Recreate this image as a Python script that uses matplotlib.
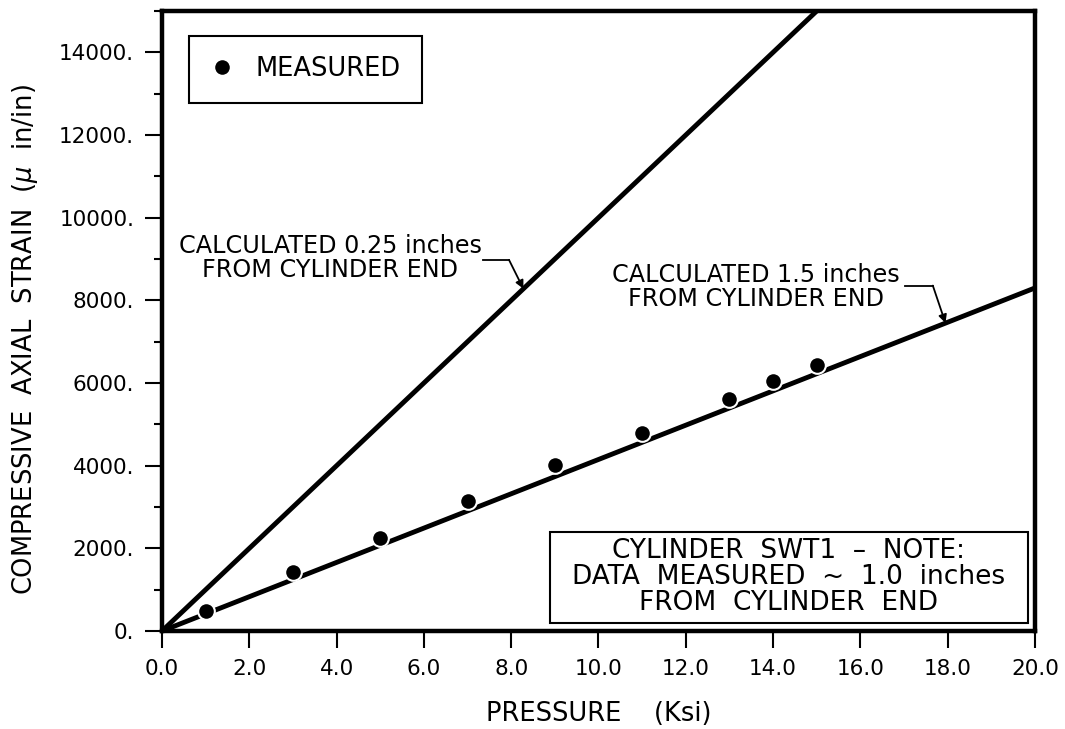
import matplotlib
matplotlib.use('Agg')
import matplotlib.pyplot as plt
from matplotlib.ticker import MultipleLocator, FuncFormatter
from matplotlib.patches import Rectangle

# measured strain, cylinder SWT1 (~1.0 in from end)
pressure = [1, 3, 5, 7, 9, 11, 13, 14, 15]
strain = [480, 1420, 2250, 3140, 4010, 4790, 5610, 6040, 6430]

# calculated lines
calc_025_x = [0.0, 15.0]
calc_025_y = [0.0, 15000.0]
calc_15_x = [0.0, 20.0]
calc_15_y = [0.0, 8300.0]

x_ticks = [0, 2, 4, 6, 8, 10, 12, 14, 16, 18, 20]
y_ticks = [0, 2000, 4000, 6000, 8000, 10000, 12000, 14000]

plt.rcParams['font.family'] = 'DejaVu Sans'

fig = plt.figure(figsize=(10.65, 7.29), dpi=100)
ax = fig.add_axes([0.1521, 0.1344, 0.8197, 0.8505])

ax.plot(calc_025_x, calc_025_y, color='k', lw=3.5, solid_capstyle='butt')
ax.plot(calc_15_x, calc_15_y, color='k', lw=3.5, solid_capstyle='butt')
ax.plot(pressure, strain, 'o', color='k', ms=12, mec='white', mew=1.5,
        label='MEASURED', zorder=5)

ax.set_xlim(0, 20)
ax.set_ylim(0, 15000)
ax.set_xticks(x_ticks)
ax.set_yticks(y_ticks)
ax.yaxis.set_minor_locator(MultipleLocator(1000))
ax.xaxis.set_major_formatter(FuncFormatter(lambda v, p: '%.1f' % v))
ax.yaxis.set_major_formatter(FuncFormatter(lambda v, p: '%d.' % v))
ax.tick_params(which='major', direction='out', length=12, width=1.5,
               labelsize=15.5, pad=8)
ax.tick_params(which='minor', direction='out', length=6, width=1.5)
for s in ax.spines.values():
    s.set_linewidth(3.2)

ax.set_xlabel('PRESSURE    (Ksi)', fontsize=18.5, labelpad=16)
ax.set_ylabel(r'COMPRESSIVE  AXIAL  STRAIN  ($\mu$  in/in)', fontsize=18.5)
ax.yaxis.set_label_coords(-0.14, 0.47)

leg = ax.legend(loc='upper left', bbox_to_anchor=(0.031, 0.96),
                borderaxespad=0, fancybox=False, edgecolor='k', framealpha=1,
                fontsize=18.5, handlelength=1.0, handletextpad=0.8,
                borderpad=0.8)
leg.get_frame().set_linewidth(1.5)

# leaders to the calculated lines
ax.text(3.85, 9015, 'CALCULATED 0.25 inches\nFROM CYLINDER END',
        ha='center', va='center', fontsize=17.2, linespacing=1.0)
ax.plot([7.35, 7.95], [8980, 8980], color='k', lw=1.3)
ax.annotate('', xy=(8.28, 8280), xytext=(7.95, 8980),
            arrowprops=dict(arrowstyle='-|>', color='k', lw=1.3,
                            mutation_scale=12, shrinkA=0, shrinkB=0))

ax.text(13.6, 8313, 'CALCULATED 1.5 inches\nFROM CYLINDER END',
        ha='center', va='center', fontsize=17.2, linespacing=1.0)
ax.plot([17.02, 17.66], [8357, 8357], color='k', lw=1.3)
ax.annotate('', xy=(17.95, 7450), xytext=(17.66, 8357),
            arrowprops=dict(arrowstyle='-|>', color='k', lw=1.3,
                            mutation_scale=12, shrinkA=0, shrinkB=0))

# note box
ax.add_patch(Rectangle((0.4445, 0.013), 0.5475, 0.147, transform=ax.transAxes,
                       fill=True, facecolor='white', edgecolor='k', lw=1.5,
                       zorder=6))
ax.text(0.718, 0.087,
        'CYLINDER  SWT1  \u2013  NOTE:\nDATA  MEASURED  ~  1.0  inches\nFROM  CYLINDER  END',
        transform=ax.transAxes, ha='center', va='center', fontsize=19,
        linespacing=0.98, zorder=7)

fig.savefig('out.png', dpi=100)
